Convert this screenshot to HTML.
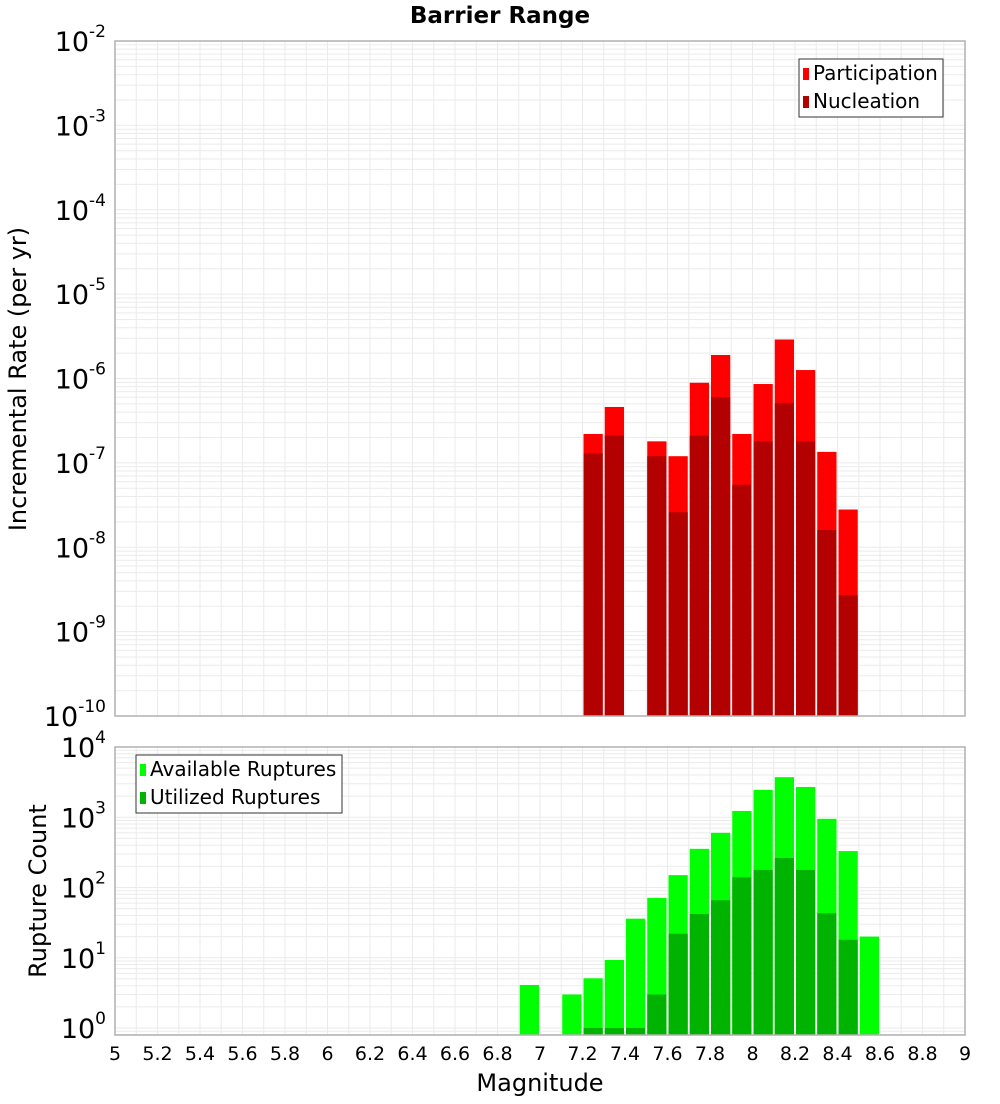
<!DOCTYPE html>
<html><head><meta charset="utf-8"><style>
body{margin:0;background:#fff;font-family:"DejaVu Sans","Liberation Sans",sans-serif}
svg text{font-family:"DejaVu Sans","Liberation Sans",sans-serif}
</style></head><body>
<svg id="c" width="1000" height="1100" xmlns="http://www.w3.org/2000/svg">
<text x="500" y="23" text-anchor="middle" font-size="23" font-weight="bold">Barrier Range</text>
<g id="top"></g>
<g id="bot"></g>
<text transform="translate(26,379) rotate(-90)" text-anchor="middle" font-size="24">Incremental Rate (per yr)</text>
<text transform="translate(46,891) rotate(-90)" text-anchor="middle" font-size="24">Rupture Count</text>
<text x="540" y="1091" text-anchor="middle" font-size="24">Magnitude</text>
</svg>
<script>
const binStarts=[6.9,7.1,7.2,7.3,7.4,7.5,7.6,7.7,7.8,7.9,8.0,8.1,8.2,8.3,8.4,8.5];
const participation=[0,0,2.2e-7,4.6e-7,0,1.8e-7,1.2e-7,8.9e-7,1.9e-6,2.2e-7,8.6e-7,2.9e-6,1.26e-6,1.35e-7,2.8e-8,0];
const nucleation=[0,0,1.3e-7,2.1e-7,0,1.2e-7,2.6e-8,2.1e-7,6e-7,5.5e-8,1.8e-7,5.1e-7,1.8e-7,1.6e-8,2.7e-9,0];
const available=[4.1,3.0,5.1,9.3,36,71,150,355,600,1230,2450,3720,2700,950,330,20];
const utilized=[0,0,1,1,1,3,22,42,66,140,178,263,178,43,18,0];
const xTicks=[5,5.2,5.4,5.6,5.8,6,6.2,6.4,6.6,6.8,7,7.2,7.4,7.6,7.8,8,8.2,8.4,8.6,8.8,9];
const rateExps=[-2,-3,-4,-5,-6,-7,-8,-9,-10];
const countExps=[4,3,2,1,0];

const NS="http://www.w3.org/2000/svg";
function el(p,t,a){const e=document.createElementNS(NS,t);for(const k in a)e.setAttribute(k,a[k]);p.appendChild(e);return e;}
const L=115,R=965;
const xs=m=>L+(m-5)/4*(R-L);
const tT=41,tB=716; const yT=v=>tT+(-2-Math.log10(v))*(tB-tT)/8;
const bT=747,bB=1035,bZ=1028; const dec=(bZ-bT)/4; const yB=v=>bZ-Math.log10(v)*dec;

function grid(g,top,bot,yfun,lo,hi){
  for(let m=5;m<=9.0001;m+=0.1){const x=xs(m);const l=el(g,'line',{x1:x,x2:x,y1:top,y2:bot,stroke:'#ebebeb','stroke-width':1});
  }
  for(let e=lo;e<=hi;e++)for(let k=1;k<10;k++){const y=yfun(k*Math.pow(10,e));if(y<top-0.5||y>bot+0.5)continue;
    const l=el(g,'line',{x1:L,x2:R,y1:y,y2:y,stroke:'#ebebeb','stroke-width':1});
    }
}
const gt=document.getElementById('top'),gb=document.getElementById('bot');
grid(gt,tT,tB,yT,-10,-2);grid(gb,bT,bB,yB,-1,4);

function bars(g,vals,yfun,base,col,name){
  vals.forEach((v,i)=>{if(!v)return;const x0=xs(binStarts[i])+1,x1=xs(binStarts[i]+0.1)-1;const y=yfun(v);
    const r=el(g,'rect',{x:x0,y:y,width:x1-x0,height:base-y,fill:col});
    });
}
bars(gt,participation,yT,tB,'#ff0000','participation-bar');
bars(gt,nucleation,yT,tB,'#b30000','nucleation-bar');
bars(gb,available,yB,bB,'#00ff00','available-bar');
bars(gb,utilized,yB,bB,'#00b300','utilized-bar');

[[gt,tT,tB],[gb,bT,bB]].forEach(([g,a,b])=>{const r=el(g,'rect',{x:L,y:a,width:R-L,height:b-a,fill:'none',stroke:'#b0b0b0','stroke-width':1.5});
});

function ylab(g,e,y){const t=el(g,'text',{x:106,y:y+10,'text-anchor':'end','font-size':27});
  
  t.appendChild(document.createTextNode('10'));
  const s=el(t,'tspan',{dy:-14,'font-size':17});s.textContent=String(e);}
rateExps.forEach(e=>ylab(gt,e,yT(Math.pow(10,e))));
countExps.forEach(e=>ylab(gb,e,yB(Math.pow(10,e))));

xTicks.forEach(m=>{const t=el(gb,'text',{x:xs(m),y:1060,'text-anchor':'middle','font-size':19});
t.textContent=String(m);});

function legend(g,x,y,w,items){const r=el(g,'rect',{x:x,y:y,width:w,height:58,fill:'#fff',stroke:'#333','stroke-width':1});

items.forEach(([c,txt],i)=>{const sw=el(g,'rect',{x:x+4,y:y+9+i*28,width:6,height:12,fill:c});

const t=el(g,'text',{x:x+14,y:y+21+i*28,'font-size':20});t.textContent=txt;});}
legend(gt,799,59,144,[['#ff0000','Participation'],['#b30000','Nucleation']]);
legend(gb,136,755,206,[['#00ff00','Available Ruptures'],['#00b300','Utilized Ruptures']]);
</script>
</body></html>
